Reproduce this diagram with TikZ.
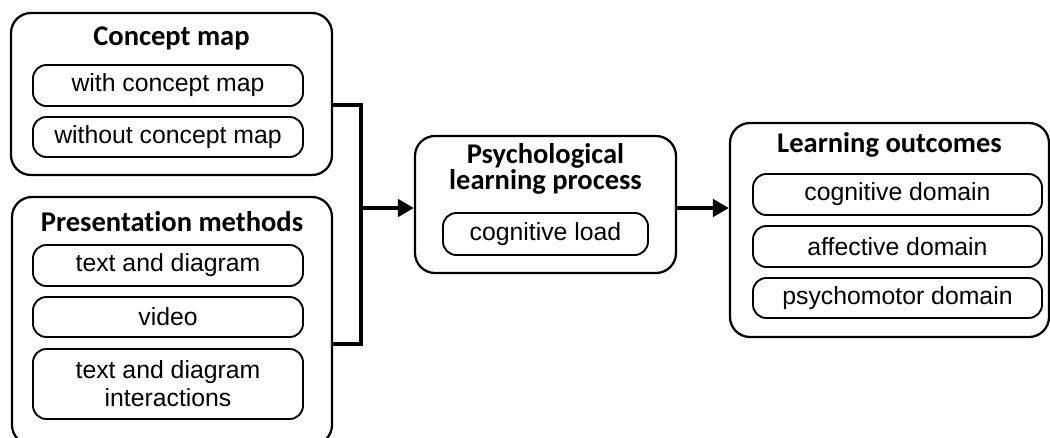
\documentclass[tikz,border=0pt]{standalone}
\usepackage{fontspec}
\setmainfont{Liberation Sans}
\newfontfamily\titlefont{Carlito}[Ligatures=NoCommon]
\usetikzlibrary{arrows.meta}
\tikzset{
  outerbox/.style={draw, line width=1.7pt, rounded corners=15pt, inner sep=0pt},
  innerbox/.style={draw, line width=1.4pt, rounded corners=10pt, inner sep=0pt, align=center,
    font=\fontsize{18.6}{21}\selectfont},
  title/.style={inner sep=0pt, align=center, font=\titlefont\bfseries\fontsize{21.4}{18}\selectfont},
  conn/.style={line width=3pt, line join=miter},
  arr/.style={line width=3pt, -{Triangle[length=12pt,width=13pt]}},
}
\begin{document}
\begin{tikzpicture}[x=0.75pt,y=-0.75pt]
\useasboundingbox (0,0) rectangle (1050,437);
% Concept map
\node[outerbox, minimum width=321*0.75pt, minimum height=162*0.75pt] (cm) at (171.5,94) {};
\node[title] (cmt) at (171.5,38) {Concept map};
\node[innerbox, minimum width=270*0.75pt, minimum height=41*0.75pt] (cm1) at (168,85.5) {with concept map};
\node[innerbox, minimum width=270*0.75pt, minimum height=40*0.75pt] (cm2) at (168,137) {without concept map};
% Presentation methods
\node[outerbox, minimum width=320*0.75pt, minimum height=248*0.75pt] (pm) at (172,321) {};
\node[title] (pmt) at (172,222) {Presentation methods};
\node[innerbox, minimum width=270*0.75pt, minimum height=41*0.75pt] (pm1) at (168,265.5) {text and diagram};
\node[innerbox, minimum width=270*0.75pt, minimum height=40*0.75pt] (pm2) at (168,317) {video};
\node[innerbox, minimum width=270*0.75pt, minimum height=70*0.75pt] (pm3) at (168,384) {text and diagram\\interactions};
% Psychological learning process
\node[outerbox, minimum width=261*0.75pt, minimum height=137*0.75pt] (ps) at (545.5,204.5) {};
\node[title] (pst) at (545.5,169) {Psychological\\learning process};
\node[innerbox, minimum width=205*0.75pt, minimum height=42*0.75pt] (ps1) at (545.5,234) {cognitive load};
% Learning outcomes
\node[outerbox, minimum width=319*0.75pt, minimum height=214*0.75pt] (lo) at (889.5,230) {};
\node[title] (lot) at (889.5,145) {Learning outcomes};
\node[innerbox, minimum width=289*0.75pt, minimum height=41*0.75pt] (lo1) at (897.5,194.5) {cognitive domain};
\node[innerbox, minimum width=289*0.75pt, minimum height=41*0.75pt] (lo2) at (897.5,246.5) {affective domain};
\node[innerbox, minimum width=289*0.75pt, minimum height=40*0.75pt] (lo3) at (897.5,298) {psychomotor domain};
% connectors
\coordinate (jt) at (361,105);
\coordinate (jb) at (361,344);
\coordinate (jm) at (361,208);
\draw[conn] (cm.east |- jt) -- (jt) -- (jb) -- (pm.east |- jb);
\draw[arr] (jm) -- (jm -| ps.west);
\draw[arr] (ps.east |- jm) -- (lo.west |- jm);
\end{tikzpicture}
\end{document}
